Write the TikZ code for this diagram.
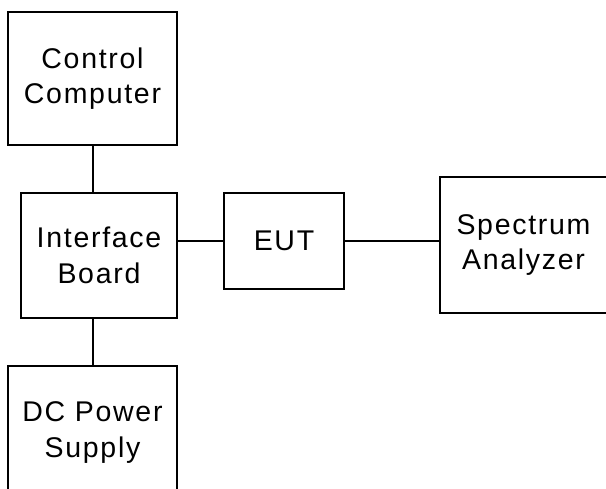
\documentclass[tikz,border=0pt]{standalone}
\usepackage{fontspec}
\setmainfont{Liberation Sans}[LetterSpace=6]
\begin{document}
\begin{tikzpicture}[x=1pt,y=-1pt,
  block/.style={draw, line width=2pt, inner sep=0pt, align=center,
    font=\fontsize{28.5}{35.5}\selectfont},
  wire/.style={line width=2pt}]
\useasboundingbox (0,0) rectangle (606,489);
\clip (0,0) rectangle (606,489);
\node[block, minimum width=169pt, minimum height=133pt] (cc) at (92.5,78.5) {Control\\Computer};
\node[block, minimum width=156pt, minimum height=125pt] (ib) at (99,255.5) {Interface\\Board};
\node[block, minimum width=169pt, minimum height=133pt] (dc) at (92.5,432.5) {DC Power\\Supply};
\node[block, minimum width=120pt, minimum height=96pt] (eut) at (284,241) {EUT};
\node[block, minimum width=167pt, minimum height=136pt] (sa) at (523.5,245) {Spectrum\\Analyzer};
\draw[wire] (cc.south) -- (cc.south |- ib.north);
\draw[wire] (ib.south -| dc.north) -- (dc.north);
\draw[wire] (ib.east |- eut.west) -- (eut.west);
\draw[wire] (eut.east) -- (eut.east -| sa.west);
\end{tikzpicture}
\end{document}
